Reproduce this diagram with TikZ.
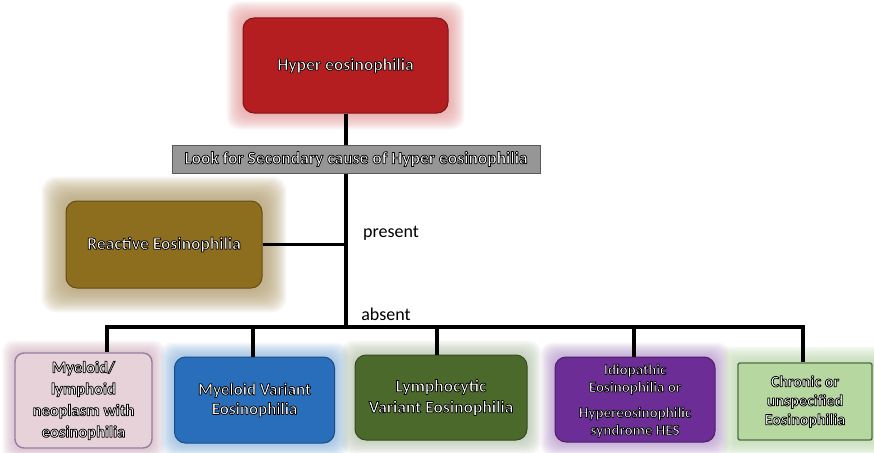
\documentclass[tikz,border=0pt]{standalone}
\usepackage{fontspec}
\setmainfont{Carlito}
\usetikzlibrary{backgrounds,calc}

% soft halo behind a box: stacked, slightly larger translucent rounded rectangles
\newcommand{\boxglow}[4]{%
  \foreach \k in {1,...,#3}{%
    \fill[#2, opacity=0.065, rounded corners=#4] ($(#1.south west)+(-\k,\k)$) rectangle ($(#1.north east)+(\k,-\k)$);
  }}
% white lettering with a black outline (fill-then-stroke text rendering)
\newcommand{\wt}[1]{\special{pdf:literal direct 2 Tr 0.75 w 0 0 0 RG 1 j}\textbf{#1}\special{pdf:literal direct 0 Tr}}

\definecolor{hered}{RGB}{180,30,32}
\definecolor{heredglow}{RGB}{230,150,150}
\definecolor{lookgray}{RGB}{150,150,150}
\definecolor{olive}{RGB}{141,109,30}
\definecolor{oliveglow}{RGB}{185,165,120}
\definecolor{pinkfill}{RGB}{232,210,218}
\definecolor{pinkedge}{RGB}{150,125,160}
\definecolor{pinkglow}{RGB}{205,165,185}
\definecolor{bluefill}{RGB}{40,110,186}
\definecolor{blueglow}{RGB}{130,175,220}
\definecolor{greenfill}{RGB}{76,105,44}
\definecolor{greenglow}{RGB}{175,190,165}
\definecolor{purplefill}{RGB}{108,45,150}
\definecolor{purpleglow}{RGB}{175,140,200}
\definecolor{lgfill}{RGB}{182,216,160}
\definecolor{lgedge}{RGB}{80,110,70}
\definecolor{lgglow}{RGB}{185,215,165}

\tikzset{
  every node/.style={font=\fontsize{17.5}{21}\selectfont},
  catbox/.style={rounded corners=11pt, text=white, align=center, inner sep=2pt, line width=1pt},
  wire/.style={line width=3.6pt, draw=black},
  branchlabel/.style={text=black, font=\fontsize{18}{21}\selectfont},
}

\begin{document}
\begin{tikzpicture}[x=1pt, y=-1pt]
\useasboundingbox (0,0) rectangle (874,452);

% boxes
\node[catbox, fill=hered, draw=hered!70!black, minimum width=205pt, minimum height=95pt] (top) at (345.5,65.5) {\wt{Hyper eosinophilia}};
\node[catbox, fill=olive, draw=olive!70!black, minimum width=196pt, minimum height=87pt] (reactive) at (164,244.5) {\wt{Reactive Eosinophilia}};
\node[catbox, rounded corners=9pt, fill=pinkfill, draw=pinkedge, line width=1.4pt, minimum width=137pt, minimum height=95pt, font=\fontsize{16.5}{21.5}\selectfont] (mln) at (83.5,400.5) {\wt{Myeloid/}\\\wt{lymphoid}\\\wt{neoplasm with}\\\wt{eosinophilia}};
\node[catbox, fill=bluefill, draw=bluefill!70!black, minimum width=160pt, minimum height=86pt, font=\fontsize{17}{19.5}\selectfont] (mve) at (254.5,400) {\wt{Myeloid Variant}\\\wt{Eosinophilia}};
\node[catbox, fill=greenfill, draw=greenfill!70!black, minimum width=172pt, minimum height=85pt] (lve) at (441,397.5) {\wt{Lymphocytic}\\\wt{Variant Eosinophilia}};
\node[catbox, fill=purplefill, draw=purplefill!70!black, minimum width=160pt, minimum height=85pt, font=\fontsize{15}{17.5}\selectfont, text depth=0pt] (hes) at (635,399.5) {\wt{Idiopathic}\\\wt{Eosinophilia or}\\[8pt]\wt{Hypereosinophilic}\\\wt{syndrome HES}};
\node[catbox, rounded corners=2pt, fill=lgfill, draw=lgedge, line width=1.4pt, minimum width=134pt, minimum height=77pt, font=\fontsize{16}{19}\selectfont] (cel) at (805,401.5) {\wt{Chronic or}\\\wt{unspecified}\\\wt{Eosinophilia}};

% trunk and branches
\coordinate (hub) at (346,327);
\coordinate (b1) at (107,327);
\coordinate (b2) at (253,327);
\coordinate (b3) at (437,327);
\coordinate (b4) at (634,327);
\coordinate (b5) at (803,327);

% page ground, halos and the trunk behind the boxes
\begin{pgfonlayer}{background}
  \fill[white] (0,0) rectangle (874,452);
  \boxglow{top}{heredglow}{16}{12pt}
  \boxglow{reactive}{oliveglow}{24}{14pt}
  \boxglow{mln}{pinkglow}{12}{10pt}
  \boxglow{mve}{blueglow}{14}{12pt}
  \boxglow{lve}{greenglow}{14}{12pt}
  \boxglow{hes}{purpleglow}{14}{12pt}
  \boxglow{cel}{lgglow}{16}{6pt}
  \draw[wire] (top.south -| hub) -- (hub);
\end{pgfonlayer}

\draw[wire] (reactive.east) -- (reactive.east -| hub);
\draw[wire, line join=miter] (b1 |- mln.north) -- (b1) -- (b5) -- (b5 |- cel.north);
\draw[wire] (b2) -- (b2 |- mve.north);
\draw[wire] (b3) -- (b3 |- lve.north);
\draw[wire] (b4) -- (b4 |- hes.north);

% screening step sits on the trunk
\node[fill=lookgray, draw=black!65, line width=1pt, text=white, minimum width=368pt, minimum height=28pt, inner sep=1pt] (look) at (356,159) {\wt{Look for Secondary cause of Hyper eosinophilia}};

% branch labels
\node[branchlabel] (present) at (391,233) {present};
\node[branchlabel] (absent) at (386,314) {absent};
\end{tikzpicture}
\end{document}
